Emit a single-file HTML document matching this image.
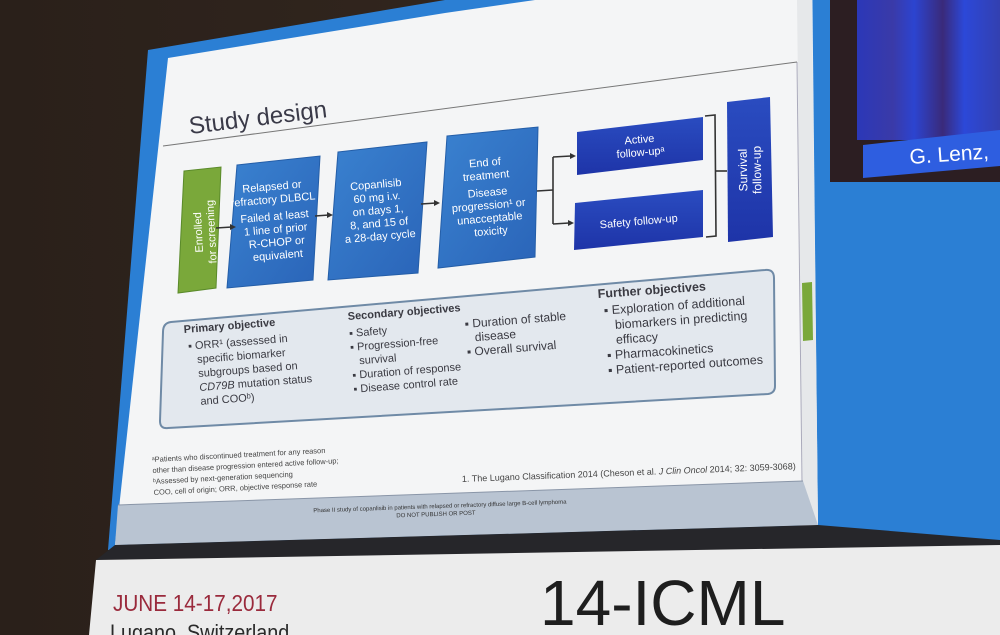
<!DOCTYPE html>
<html><head><meta charset="utf-8"><style>
html,body{margin:0;padding:0;background:#2e241e;}
svg{display:block;font-family:"Liberation Sans",sans-serif;}
</style></head><body>
<svg width="1000" height="635" viewBox="0 0 1000 635" xmlns="http://www.w3.org/2000/svg">
<defs>
<linearGradient id="bg" x1="0" y1="0" x2="1" y2="0"><stop offset="0" stop-color="#2a201a"/><stop offset="1" stop-color="#3a2c22"/></linearGradient>
<linearGradient id="bb" x1="0" y1="0" x2="1" y2="1"><stop offset="0" stop-color="#3a82d0"/><stop offset="1" stop-color="#2a64b8"/></linearGradient>
<linearGradient id="db" x1="0" y1="0" x2="0" y2="1"><stop offset="0" stop-color="#2a4cc0"/><stop offset="1" stop-color="#1e34a8"/></linearGradient>
<linearGradient id="cur" x1="0" y1="0" x2="1" y2="0">
<stop offset="0" stop-color="#2b38b8"/><stop offset="0.25" stop-color="#3a3aa8"/><stop offset="0.4" stop-color="#2c44d0"/><stop offset="0.6" stop-color="#3a2a7a"/><stop offset="0.75" stop-color="#2c48d8"/><stop offset="1" stop-color="#3340b0"/></linearGradient>
</defs>
<rect width="1000" height="635" fill="url(#bg)"/>
<!-- blue projection -->
<polygon points="148,50 445,0 1000,0 1000,545 108,550" fill="#2b7fd4"/>
<!-- video inset -->
<rect x="830" y="0" width="170" height="182" fill="#2c1e22"/>
<rect x="857" y="0" width="143" height="140" fill="url(#cur)"/>
<polygon points="863,145 1000,130 1000,166 863,178" fill="#2e5ee0"/>
<text x="910" y="164" font-size="21" fill="#fff" transform="rotate(-4 910 164)">G. Lenz,</text>
<!-- slide white -->
<polygon points="168,58 445,13 812,-40 818,525 115,545" fill="#f4f5f6"/>
<polygon points="797,0 812,0 818,525 803,527" fill="#e6e8ea"/>
<line x1="797" y1="62" x2="802" y2="482" stroke="#aab" stroke-width="1"/>
<polygon points="802,283 812,282 813,340 803,341" fill="#7aa83a"/>
<!-- bottom band -->
<polygon points="118,505 803,481 818,525 115,545" fill="#b9c4d2"/>
<line x1="118" y1="505" x2="803" y2="481" stroke="#8a96a8" stroke-width="1"/>
<text x="440" y="508" font-size="6" fill="#333" text-anchor="middle" transform="rotate(-2 440 508)">Phase II study of copanlisib in patients with relapsed or refractory diffuse large B-cell lymphoma</text>
<text x="436" y="516" font-size="6" fill="#333" text-anchor="middle" transform="rotate(-2 436 516)">DO NOT PUBLISH OR POST</text>
<!-- dark gap + banner -->
<polygon points="115,545 818,525 1000,540 1000,546 96,560" fill="#26262a"/>
<polygon points="96,560 1000,545 1000,635 89,635" fill="#ececec"/>
<text x="113" y="611" font-size="23" fill="#9a2a3c" transform="scale(0.9,1)" style="transform-origin:113px 611px">JUNE 14-17,2017</text>
<text x="110" y="640" font-size="22" fill="#2a2a2a" transform="scale(0.9,1)" style="transform-origin:110px 640px">Lugano, Switzerland</text>
<text x="540" y="625" font-size="64" fill="#1e1e1e">14-ICML</text>
<!-- title -->
<text x="190" y="134" font-size="24" fill="#3a3a48" transform="rotate(-7 190 134)">Study design</text>
<line x1="163" y1="146" x2="797" y2="62" stroke="#777" stroke-width="1"/>
<!-- boxes -->
<polygon points="184,171 221,167 216,288 178,293" fill="#7aa83a" stroke="#5a8a2a"/>
<polygon points="237,165 320,156 313,280 227,288" fill="url(#bb)" stroke="#245ea8"/>
<polygon points="338,152 427,142 418,273 328,280" fill="url(#bb)" stroke="#245ea8"/>
<polygon points="447,136 538,127 535,257 438,268" fill="url(#bb)" stroke="#245ea8"/>
<polygon points="577,132 703,117 703,160 577,175" fill="url(#db)"/>
<polygon points="575,203 703,190 703,237 574,250" fill="url(#db)"/>
<polygon points="727,102 770,97 773,237 728,242" fill="url(#db)"/>
<!-- arrows -->
<g stroke="#333" stroke-width="1.6" fill="none">
<line x1="216" y1="228" x2="232" y2="227"/>
<line x1="315" y1="216" x2="329" y2="215"/>
<line x1="421" y1="204" x2="436" y2="203"/>
<line x1="537" y1="191" x2="553" y2="190"/>
<line x1="553" y1="157" x2="553" y2="224"/>
<line x1="553" y1="157" x2="571" y2="156"/>
<line x1="553" y1="224" x2="569" y2="223"/>
<polyline points="705,116 715,115 716,236 706,237"/>
<line x1="716" y1="171" x2="727" y2="171"/>
</g>
<g fill="#333">
<polygon points="236,227 230,224 230,230"/>
<polygon points="333,215 327,212 327,218"/>
<polygon points="440,203 434,200 434,206"/>
<polygon points="576,156 570,153 570,159"/>
<polygon points="574,223 568,220 568,226"/>
</g>
<!-- box texts -->
<g fill="#fff" font-size="11" text-anchor="middle">
<text transform="translate(206,232) rotate(-93)"><tspan x="0" y="-4">Enrolled</tspan><tspan x="0" y="9">for screening</tspan></text>
<g transform="rotate(-5 275 222)">
<text x="275" y="190">Relapsed or</text><text x="275" y="203">refractory DLBCL</text>
<text x="275" y="220">Failed at least</text><text x="275" y="233">1 line of prior</text>
<text x="275" y="246">R-CHOP or</text><text x="275" y="259">equivalent</text></g>
<g transform="rotate(-5 378 210)">
<text x="378" y="188">Copanlisib</text><text x="378" y="201">60 mg i.v.</text>
<text x="378" y="214">on days 1,</text><text x="378" y="227">8, and 15 of</text>
<text x="378" y="240">a 28-day cycle</text></g>
<g transform="rotate(-5 488 198)">
<text x="488" y="166">End of</text><text x="488" y="179">treatment</text>
<text x="488" y="196">Disease</text><text x="488" y="209">progression¹ or</text>
<text x="488" y="222">unacceptable</text><text x="488" y="235">toxicity</text></g>
<g transform="rotate(-5 640 146)"><text x="640" y="143">Active</text><text x="640" y="156">follow-upᵃ</text></g>
<text x="639" y="225" transform="rotate(-5 639 225)">Safety follow-up</text>
<text transform="translate(750,170) rotate(-91)" font-size="12"><tspan x="0" y="-3">Survival</tspan><tspan x="0" y="11">follow-up</tspan></text>
</g>
<!-- objectives box -->
<path d="M171,322 L765,270 Q774,269 774,278 L775,386 Q775,393 768,394 L168,428 Q160,429 160,421 L163,332 Q163,323 171,322 Z" fill="#e3e8ee" stroke="#6f8aa6" stroke-width="2"/>
<g fill="#3a3a42" font-size="11">
<g transform="rotate(-4.5 184 333)">
<text x="184" y="333" font-weight="bold">Primary objective</text>
<text x="187" y="350">▪ ORR¹ (assessed in</text><text x="195" y="364">specific biomarker</text>
<text x="195" y="378">subgroups based on</text><text x="195" y="392"><tspan font-style="italic">CD79B</tspan> mutation status</text>
<text x="195" y="406">and COOᵇ)</text></g>
<g transform="rotate(-4.5 348 320)">
<text x="348" y="320" font-weight="bold">Secondary objectives</text>
<text x="348" y="337">▪ Safety</text><text x="348" y="351">▪ Progression-free</text>
<text x="356" y="365">survival</text><text x="348" y="379">▪ Duration of response</text>
<text x="348" y="393">▪ Disease control rate</text></g>
<g transform="rotate(-4.5 465 328)" font-size="12">
<text x="465" y="328">▪ Duration of stable</text><text x="474" y="342">disease</text>
<text x="465" y="356">▪ Overall survival</text></g>
<g transform="rotate(-4 598 298)" font-size="12.5">
<text x="598" y="298" font-weight="bold">Further objectives</text>
<text x="603" y="315">▪ Exploration of additional</text><text x="613" y="330">biomarkers in predicting</text>
<text x="613" y="345">efficacy</text><text x="603" y="360">▪ Pharmacokinetics</text>
<text x="603" y="375">▪ Patient-reported outcomes</text></g>
</g>
<!-- footnotes -->
<g fill="#444" font-size="7.5" transform="rotate(-3 152 462)">
<text x="152" y="462">ᵃPatients who discontinued treatment for any reason</text>
<text x="152" y="473">other than disease progression entered active follow-up;</text>
<text x="152" y="484">ᵇAssessed by next-generation sequencing</text>
<text x="152" y="495">COO, cell of origin; ORR, objective response rate</text>
</g>
<text x="462" y="482" font-size="9" fill="#444" transform="rotate(-2.2 462 482)">1. The Lugano Classification 2014 (Cheson et al. <tspan font-style="italic">J Clin Oncol</tspan> 2014; 32: 3059-3068)</text>
</svg>
</body></html>
